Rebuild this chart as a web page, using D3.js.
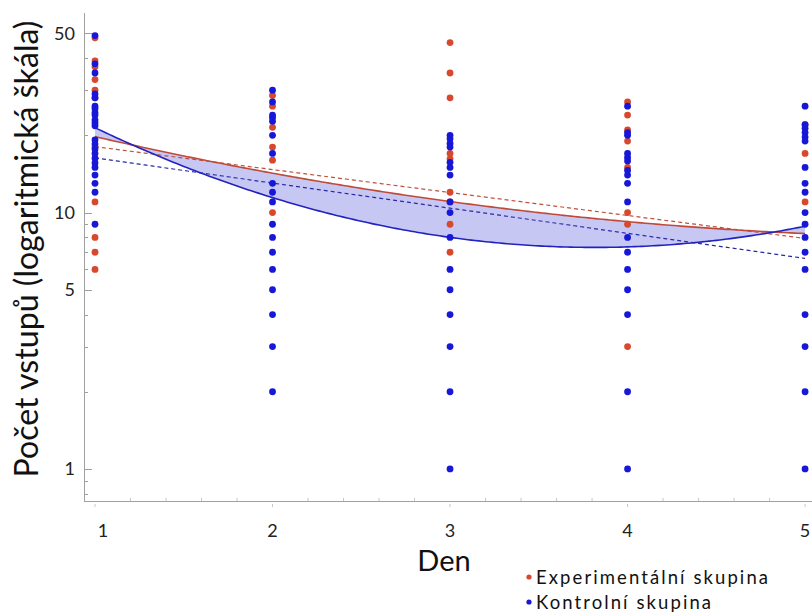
<!DOCTYPE html>
<html>
<head>
<meta charset="utf-8">
<script src="https://cdn.jsdelivr.net/npm/d3@7"></script>
<style>
  html, body { margin: 0; padding: 0; background: #fff; }
  svg { display: block; font-family: Lato, "Open Sans", sans-serif; }
</style>
</head>
<body>
<svg id="chart" width="812" height="616"></svg>
<script>
// Days of the experiment
const days = [1, 2, 3, 4, 5];

// Number of entries per animal, experimental group (one array per day)
const experimental = [
  [48, 39, 37, 33, 30, 28, 18, 11, 8, 7, 6],
  [28.6, 26, 21.5, 18, 16, 10],
  [46, 35, 28, 17, 16.2, 12, 11, 9, 7],
  [27, 24, 21, 19, 15, 10, 9, 3],
  [22, 17, 11]
];

// Number of entries per animal, control group (one array per day)
const control = [
  [49, 38, 35, 29, 28, 26, 25.4, 24.5, 24, 23, 22.4, 21.8, 19.2, 18.5, 17.7, 17, 16.3, 15.6, 15, 14, 13, 12, 9],
  [30, 27, 24, 23.5, 22.7, 20, 17, 13, 12, 11, 9, 8, 7, 6, 5, 4, 3, 2],
  [20, 19.4, 18.6, 18, 15.7, 15, 14, 11, 10, 8, 6, 5, 4, 3, 2, 1],
  [26, 20.5, 20, 17, 16.4, 15.9, 14.6, 14, 13, 11, 8, 7, 6, 5, 4, 2, 1],
  [26, 22, 21.3, 20.5, 19.7, 19, 15, 13, 12, 10, 9, 8, 7, 6, 4, 3, 2, 1]
];

// Fitted trends on log10 scale: quadratic [a, b, c] and linear [a, b] in day
const expQuadFit = [1.4705, -0.1905, 0.016];
const ctrlQuadFit = [1.7216, -0.4495, 0.0589];
const expLinFit = [1.3465, -0.0895];
const ctrlLinFit = [1.311, -0.098];

// Axis ticks
const yMajorTicks = [1, 5, 10, 50];
const yMinorTicks = [0.8, 0.9, 2, 3, 4, 6, 7, 8, 9, 20, 30, 40];
const xMinorTicks = [1.2, 1.4, 1.6, 1.8, 2.2, 2.4, 2.6, 2.8, 3.2, 3.4, 3.6, 3.8, 4.2, 4.4, 4.6, 4.8];

// Text
const yTitle = "Počet vstupů (logaritmická škála)";
const xTitle = "Den";
const legendLabels = ["Experimentální skupina", "Kontrolní skupina"];

const RED = "#d8482c";
const BLUE = "#1717d8";

const svg = d3.select("#chart");

const x = d3.scaleLinear().domain([0.938, 5.039]).range([84, 812]);
const y = d3.scaleLog().domain([0.75, 60]).range([501, 13]);

const quad = (c, d) => Math.pow(10, c[0] + c[1] * d + c[2] * d * d);
const lin = (c, d) => Math.pow(10, c[0] + c[1] * d);
const curveDays = d3.range(1, 5.0001, 0.02);

// Shaded band between the two quadratic trends
svg.append("path")
  .datum(curveDays)
  .attr("fill", "#c4c4f2")
  .attr("fill-opacity", 0.95)
  .attr("d", d3.area()
    .x(d => x(d))
    .y0(d => y(quad(expQuadFit, d)))
    .y1(d => y(quad(ctrlQuadFit, d))));

// Axes
const axisG = svg.append("g").attr("stroke", "#a0a0a0").attr("stroke-width", 1);
axisG.append("line").attr("x1", 84.5).attr("x2", 84.5).attr("y1", 13).attr("y2", 501);
axisG.append("line").attr("x1", 84).attr("x2", 812).attr("y1", 501.5).attr("y2", 501.5);

axisG.selectAll(".ymaj").data(yMajorTicks).join("line")
  .attr("x1", 84).attr("x2", 92)
  .attr("y1", d => Math.round(y(d)) + 0.5).attr("y2", d => Math.round(y(d)) + 0.5);
axisG.selectAll(".ymin").data(yMinorTicks).join("line")
  .attr("x1", 84).attr("x2", 88)
  .attr("y1", d => Math.round(y(d)) + 0.5).attr("y2", d => Math.round(y(d)) + 0.5);
axisG.selectAll(".xmaj").data(days).join("line")
  .attr("stroke", "#c8c8c8")
  .attr("x1", d => x(d)).attr("x2", d => x(d))
  .attr("y1", 504).attr("y2", 507);
axisG.selectAll(".xmin").data(xMinorTicks).join("line")
  .attr("stroke", "#c8c8c8")
  .attr("x1", d => x(d)).attr("x2", d => x(d))
  .attr("y1", 498).attr("y2", 501);

// Tick labels
svg.append("g").selectAll("text").data(yMajorTicks).join("text")
  .attr("x", 75).attr("y", d => y(d))
  .attr("dy", "0.35em")
  .attr("text-anchor", "end")
  .attr("font-size", 18).attr("fill", "#222")
  .text(d => d);

svg.append("g").selectAll("text").data(days).join("text")
  .attr("x", (d, i) => x(d) + (i === 0 ? 8 : 0)).attr("y", 537)
  .attr("text-anchor", "middle")
  .attr("font-size", 18).attr("fill", "#222")
  .text(d => d);

// Axis titles
const yt = svg.append("text")
  .attr("transform", "translate(38,249) rotate(-90)")
  .attr("text-anchor", "middle")
  .attr("font-size", 28).attr("fill", "#111")
  .text(yTitle);
const ytLen = yt.node().getComputedTextLength();
yt.attr("font-size", 28 * 457 / ytLen);

svg.append("text")
  .attr("x", 444).attr("y", 571)
  .attr("text-anchor", "middle")
  .attr("font-size", 29).attr("fill", "#111")
  .text(xTitle);

// Trend lines
const lineGen = f => d3.line().x(d => x(d)).y(d => y(f(d)));
svg.append("path").datum(curveDays)
  .attr("fill", "none").attr("stroke", "#c0503a").attr("stroke-width", 1.2)
  .attr("stroke-dasharray", "4,3")
  .attr("d", lineGen(d => lin(expLinFit, d)));
svg.append("path").datum(curveDays)
  .attr("fill", "none").attr("stroke", "#2a2aa8").attr("stroke-width", 1.2)
  .attr("stroke-dasharray", "4,3")
  .attr("d", lineGen(d => lin(ctrlLinFit, d)));
svg.append("path").datum(curveDays)
  .attr("fill", "none").attr("stroke", "#c04a3a").attr("stroke-width", 1.6)
  .attr("d", lineGen(d => quad(expQuadFit, d)));
svg.append("path").datum(curveDays)
  .attr("fill", "none").attr("stroke", "#2222c0").attr("stroke-width", 1.6)
  .attr("d", lineGen(d => quad(ctrlQuadFit, d)));

// Points
const flat = (groups) => groups.flatMap((vals, i) => vals.map(v => ({ day: days[i], v })));
svg.append("g").selectAll("circle").data(flat(experimental)).join("circle")
  .attr("cx", d => x(d.day)).attr("cy", d => y(d.v)).attr("r", 3.4)
  .attr("fill", RED);
svg.append("g").selectAll("circle").data(flat(control)).join("circle")
  .attr("cx", d => x(d.day)).attr("cy", d => y(d.v)).attr("r", 3.4)
  .attr("fill", BLUE);

// Legend
const legend = svg.append("g");
const legendFont = 18.5;
const legendTexts = [RED, BLUE].map((col, i) => {
  const cy = 577 + i * 25;
  legend.append("circle").attr("cx", 529).attr("cy", cy).attr("r", 2.6).attr("fill", col);
  return legend.append("text")
    .attr("x", 536).attr("y", cy).attr("dy", "0.36em")
    .attr("font-size", legendFont).attr("fill", "#111")
    .text(legendLabels[i]);
});
// Spread letters so the longer label spans the same width as in print
const baseLen = legendTexts[0].node().getComputedTextLength();
const spacing = Math.max(0, (232 - baseLen) / (legendLabels[0].length - 1));
legendTexts.forEach(t => t.attr("letter-spacing", spacing));
</script>
</body>
</html>
